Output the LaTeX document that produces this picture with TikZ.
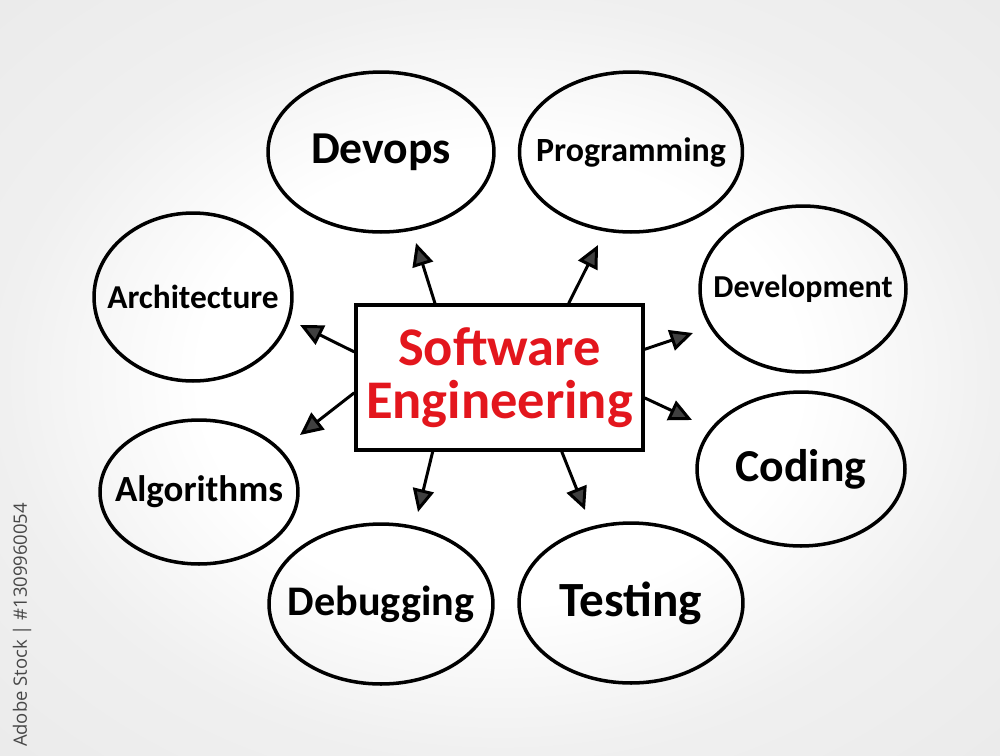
\documentclass[tikz,border=0pt]{standalone}
\usepackage{fontspec}
\setmainfont{Carlito}
\setsansfont{Open Sans}
\usetikzlibrary{shapes.geometric, arrows.meta}

\definecolor{marker}{HTML}{E3161D}
\pgfdeclareradialshading{glow}{\pgfpoint{0bp}{0bp}}{color(0bp)=(white); color(15bp)=(white); color(25bp)=(black!6); color(36bp)=(black!8); color(50bp)=(black!8)}

\tikzset{
    bubble/.style={ellipse, draw, line width=2pt, inner sep=0pt},
    word/.style={font=\bfseries\fontsize{#1}{#1}\selectfont},
    hub/.style={draw, line width=2pt, fill=white, text=marker, align=center,
        font=\bfseries\fontsize{31}{30}\selectfont},
    branch/.style={line width=1.7pt, -{Triangle[length=13pt, width=12pt, fill=black!75]}},
}

\begin{document}
\begin{tikzpicture}[x=0.02cm, y=-0.02cm]
    % Background
    \shade[shading=glow] (0,0) rectangle (1000,755);
    \useasboundingbox (0,0) rectangle (1000,755);
    \node[rotate=90, text=black!72, font=\sffamily\fontsize{10.5}{10.5}\selectfont] (stock) at (22,625) {Adobe Stock | \#1309960054};

    % Centre
    \node[hub, minimum width=5.74cm, minimum height=2.9cm] (se) at (499.5,377.5) {Software\\Engineering};

    % Top row
    \node[bubble, minimum width=4.52cm, minimum height=3.2cm] (devops) at (381,152) {};
    \node[word=26] (devopstext) at (devops) {Devops};
    \node[bubble, minimum width=4.46cm, minimum height=3.2cm] (programming) at (631,152) {};
    \node[word=19.3] (programmingtext) at (programming) {Programming};

    % Left side
    \node[bubble, minimum width=3.96cm, minimum height=3.36cm] (architecture) at (193,297) {};
    \node[word=19] (architecturetext) at (architecture) {Architecture};
    \node[bubble, minimum width=3.96cm, minimum height=2.88cm] (algorithms) at (199,492) {};
    \node[word=21] (algorithmstext) at (algorithms) {Algorithms};

    % Right side
    \node[bubble, minimum width=4.12cm, minimum height=3.32cm] (development) at (803,289) {};
    \node[word=18.2] (developmenttext) at (development) {Development};
    \node[bubble, minimum width=4.16cm, minimum height=3.08cm] (coding) at (801,469) {};
    \node[word=26] (codingtext) at (coding) {Coding};

    % Bottom row
    \node[bubble, minimum width=4.48cm, minimum height=3.2cm] (debugging) at (381,604) {};
    \node[word=24] (debuggingtext) at (debugging) {Debugging};
    \node[bubble, minimum width=4.48cm, minimum height=3.2cm] (testing) at (631,603) {};
    \node[word=28] (testingtext) at (testing) {Testing};

    % Arrow tips
    \coordinate (tipdevops) at (416,243);
    \coordinate (tipprogramming) at (598,245);
    \coordinate (tiparchitecture) at (300,325);
    \coordinate (tipalgorithms) at (300,435);
    \coordinate (tipdevelopment) at (693,333);
    \coordinate (tipcoding) at (692,420);
    \coordinate (tipdebugging) at (418,512);
    \coordinate (tiptesting) at (585,510);

    % Arrows
    \draw[branch] (se.131) -- (tipdevops);
    \draw[branch] (se.47) -- (tipprogramming);
    \draw[branch] (se.170) -- (tiparchitecture);
    \draw[branch] (se.186) -- (tipalgorithms);
    \draw[branch] (se.11) -- (tipdevelopment);
    \draw[branch] (se.352) -- (tipcoding);
    \draw[branch] (se.228) -- (tipdebugging);
    \draw[branch] (se.310) -- (tiptesting);
\end{tikzpicture}
\end{document}
